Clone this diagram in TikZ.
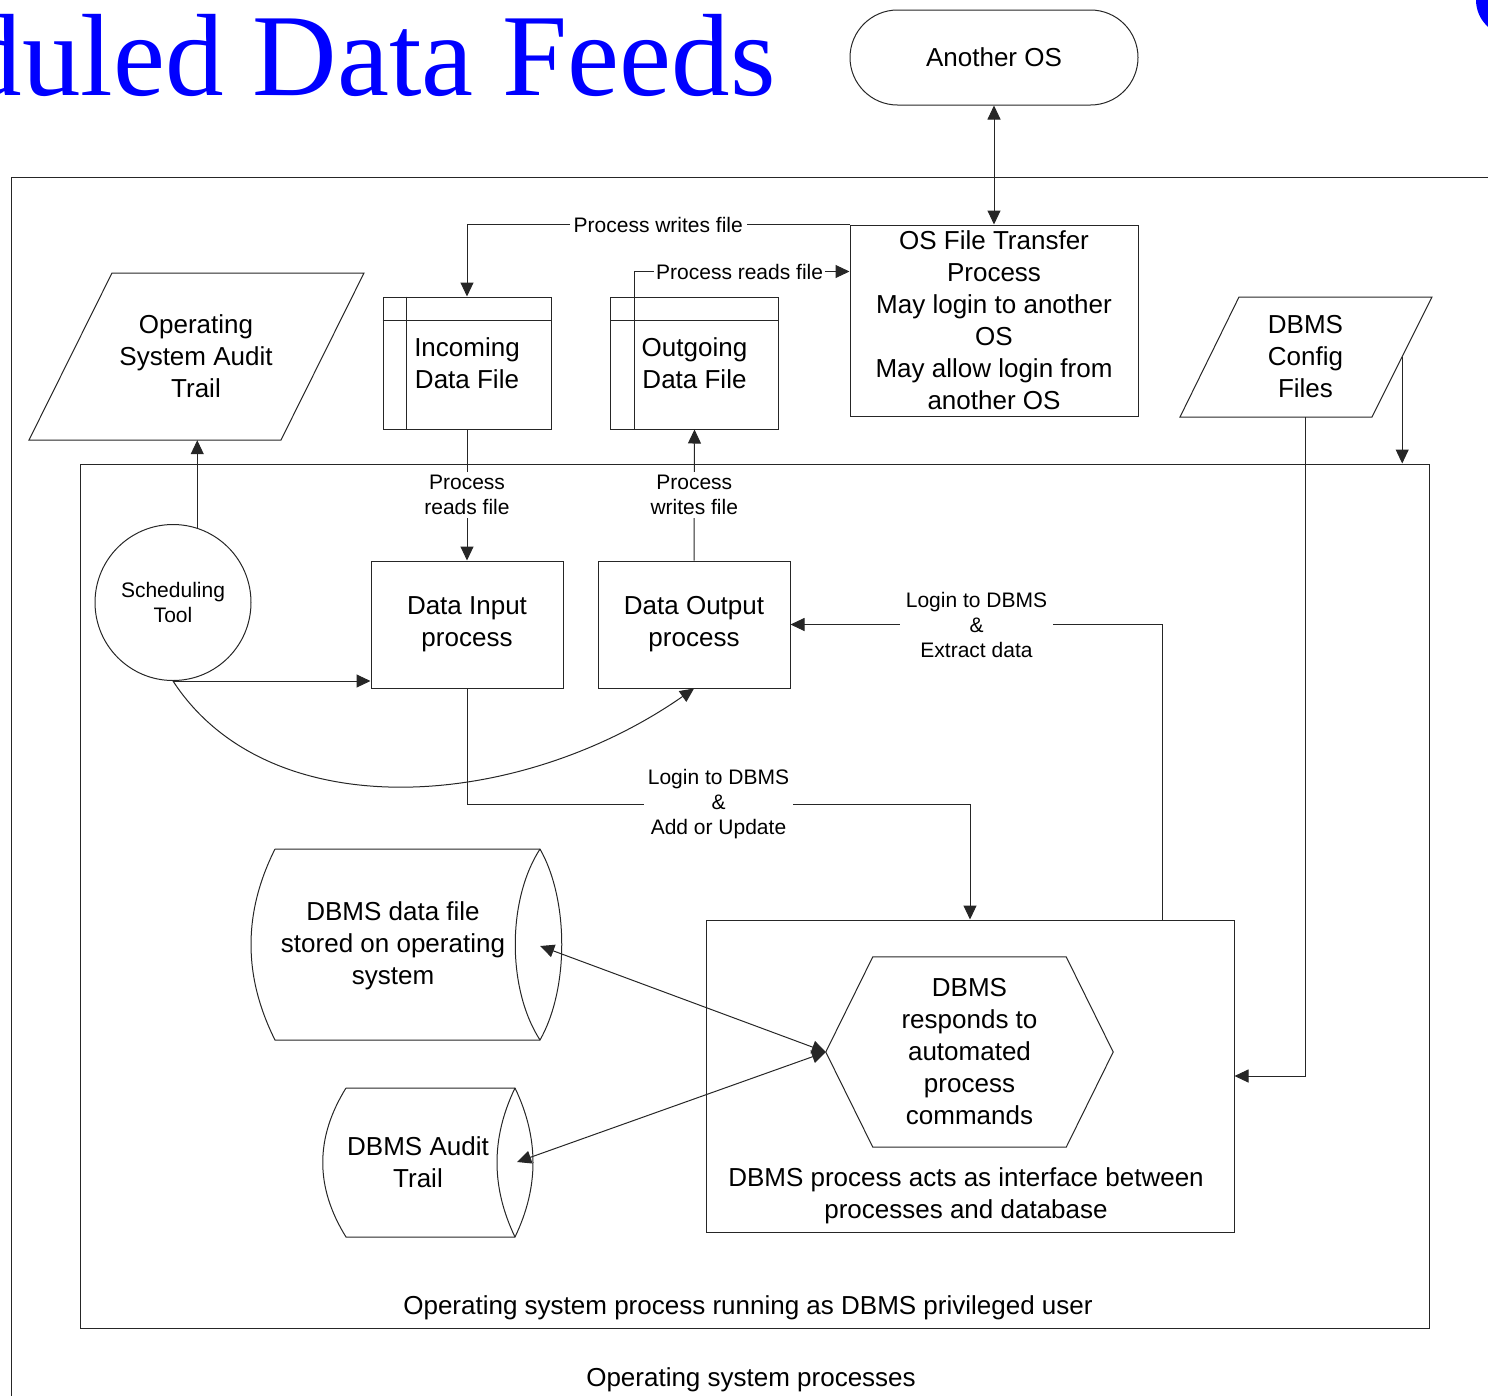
\documentclass[tikz,border=0pt]{standalone}
\usepackage{fontspec}
\setmainfont{Liberation Sans}
\newfontfamily\titlefont{Liberation Serif}
\usetikzlibrary{arrows.meta,positioning,calc}
\newcommand{\diagfont}{\fontsize{26}{32}\selectfont}
\newcommand{\lblfont}{\fontsize{21}{25}\selectfont}
\tikzset{
procbox/.style={draw=black!85, line width=1pt, align=center, inner sep=0pt, font=\diagfont},
plaintext/.style={align=center, inner sep=0pt, font=\diagfont},
flowlabel/.style={fill=white, align=center, inner sep=4pt, font=\lblfont},
flowline/.style={draw=black!85, line width=1pt},
flowarrow/.style={draw=black!85, line width=1pt, -{Triangle[length=14pt,width=13pt]}},
flowboth/.style={draw=black!85, line width=1pt, {Triangle[length=14pt,width=13pt]}-{Triangle[length=14pt,width=13pt]}}
}

\begin{document}
\begin{tikzpicture}[x=1pt, y=-1pt]
  \useasboundingbox (0,0) rectangle (1488,1395);
  \clip (0,0) rectangle (1488,1395);
  % heading and frames
  \node[anchor=base east, inner sep=0pt, text=blue, font=\titlefont\fontsize{117}{120}\selectfont] (title) at (776,95) {duled Data Feeds};
  \fill[blue] (1512,0) circle (36);
  \draw[flowline] (1500,177) -- (11,177) -- (11,1400);
  \node[plaintext] (oslbl) at (751,1380) {Operating system processes};
  \node[procbox, minimum width=1349, minimum height=864] (oprun) at (754.5,896) {};
  \node[plaintext] (oprunlbl) at (748,1308) {Operating system process running as DBMS privileged user};
  % top row
  \node[procbox, minimum width=288, minimum height=95, rounded corners=47.5pt] (anotheros) at (994,57.5) {Another OS};
  \node[procbox, minimum width=288, minimum height=191] (ftp) at (994,320.5) {OS File Transfer\\Process\\May login to another\\OS\\May allow login from\\another OS};
  \node[procbox, minimum width=168, minimum height=132] (incoming) at (467,363) {Incoming\\Data File};
  \draw[flowline] ([yshift=-24pt]incoming.north west) -- ([yshift=-24pt]incoming.north east);
  \draw[flowline] ([xshift=24pt]incoming.north west) -- ([xshift=24pt]incoming.south west);
  \node[procbox, minimum width=168, minimum height=132] (outgoing) at (694.5,363) {Outgoing\\Data File};
  \draw[flowline] ([yshift=-24pt]outgoing.north west) -- ([yshift=-24pt]outgoing.north east);
  \draw[flowline] ([xshift=24pt]outgoing.north west) -- ([xshift=24pt]outgoing.south west);
  \node[plaintext, minimum width=150, minimum height=167] (osaudit) at (196,356.5) {Operating\\System Audit\\Trail};
  \draw[flowline] (112,273) -- (364,273) -- (281,440) -- (29,440) -- cycle;
  \node[plaintext, minimum width=193, minimum height=120] (dbconf) at (1305.5,357) {DBMS\\Config\\Files};
  \draw[flowline] (1239,297) -- (1432,297) -- (1372,417) -- (1180,417) -- cycle;
  % processes
  \node[procbox, circle, minimum size=156, font=\lblfont] (sched) at (173,602.5) {Scheduling\\Tool};
  \node[procbox, minimum width=192, minimum height=127] (din) at (467,624.5) {Data Input\\process};
  \node[procbox, minimum width=192, minimum height=127] (dout) at (694,624.5) {Data Output\\process};
  \node[procbox, minimum width=528, minimum height=312] (dbmsbox) at (970,1076) {};
  \node[plaintext] (dbmsnote) at (966,1196) {DBMS process acts as interface between\\processes and database};
  \node[plaintext, minimum width=287, minimum height=190] (hexa) at (969.5,1052) {DBMS\\responds to\\automated\\process\\commands};
  \draw[flowline] (hexa.west) -- ([xshift=47pt]hexa.north west) -- ([xshift=-47pt]hexa.north east) -- (hexa.east) -- ([xshift=-47pt]hexa.south east) -- ([xshift=47pt]hexa.south west) -- cycle;
  % storage
  \node[plaintext, minimum width=294, minimum height=191] (dbfile) at (393,946) {DBMS data file\\stored on operating\\system};
  \draw[flowline] (275,849) -- (540,849) .. controls (569,900) and (569,989) .. (540,1040) -- (275,1040) .. controls (243,976) and (243,913) .. (275,849);
  \draw[flowline] (540,849) .. controls (507,900) and (507,989) .. (540,1040);
  \node[plaintext, minimum width=198, minimum height=149] (dbaudit) at (418,1162) {DBMS Audit\\Trail};
  \draw[flowline] (346,1088) -- (515,1088) .. controls (539,1138) and (539,1187) .. (515,1237) -- (346,1237) .. controls (315,1187) and (315,1138) .. (346,1088);
  \draw[flowline] (515,1088) .. controls (491,1138) and (491,1187) .. (515,1237);
  % connectors
  \draw[flowboth] (anotheros.south) -- (ftp.north);
  \draw[flowarrow] (ftp.north west) -| (incoming.north) node[flowlabel, pos=0.25] {Process writes file};
  \draw[flowarrow] ([xshift=24pt]outgoing.north west) |- ([yshift=-47pt]ftp.north west) node[flowlabel, pos=0.745, inner sep=2pt] {Process reads file};
  \draw[flowarrow] (incoming.south) -- (din.north) node[flowlabel, midway, inner sep=3pt] {Process\\reads file};
  \draw[flowarrow] (dout.north) -- (outgoing.south) node[flowlabel, midway, inner sep=3pt] {Process\\writes file};
  \draw[flowarrow] (sched.72) -- (sched.72 |- osaudit.south);
  \draw[flowarrow] (sched.south) -- (sched.south -| din.west);
  \draw[flowarrow] (sched.south) .. controls (270,830) and (520,810) .. (dout.south);
  \draw[flowarrow] ([xshift=-72pt]dbmsbox.north east) |- (dout.east) node[flowlabel, pos=0.75, inner sep=6pt] {Login to DBMS\\\&\\Extract data};
  \draw[flowarrow] (din.south) -- ++(0,116) -| (dbmsbox.north) node[flowlabel, pos=0.25] {Login to DBMS\\\&\\Add or Update};
  \draw[flowarrow] (dbconf.east) -- (dbconf.east |- oprun.north);
  \draw[flowarrow] (dbconf.south) |- (dbmsbox.east);
  \draw[flowboth] (dbfile.east) -- (hexa.west);
  \draw[flowboth] (dbaudit.east) -- (hexa.west);
\end{tikzpicture}
\end{document}
